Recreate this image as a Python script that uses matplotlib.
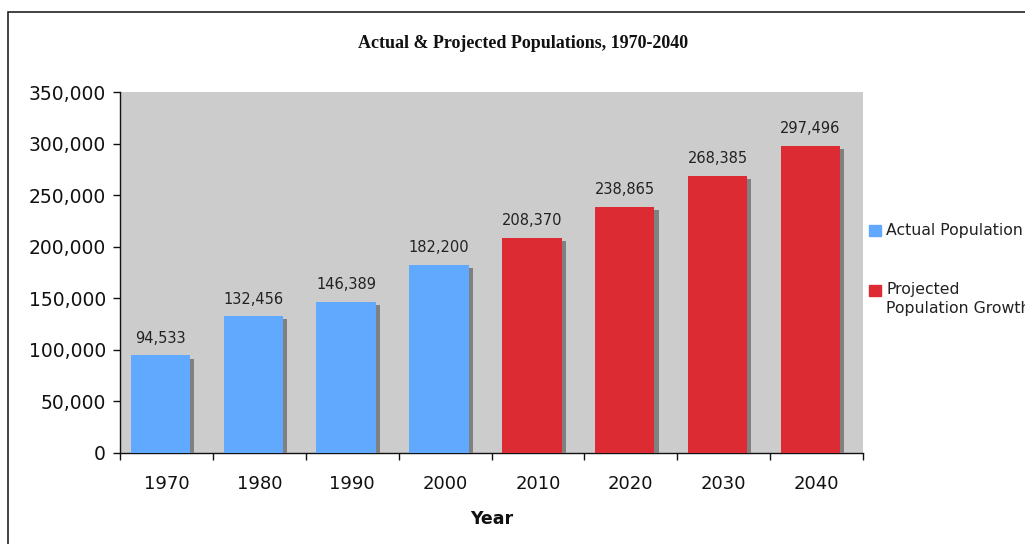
import matplotlib
matplotlib.use("Agg")
import matplotlib.pyplot as plt
import matplotlib.ticker as ticker
import matplotlib.patheffects as pe
from matplotlib.patches import Rectangle

# ── Data ──────────────────────────────────────────────────────────────────────
years = ["1970", "1980", "1990", "2000", "2010", "2020", "2030", "2040"]
population = [94533, 132456, 146389, 182200, 208370, 238865, 268385, 297496]
is_projected = [False, False, False, False, True, True, True, True]
series_labels = ["Actual Population", "Projected\nPopulation Growth"]

BLUE = "#61a9ff"
RED = "#dd2b34"
BG = "#cccccc"
SHADOW = "#808080"

W, H = 1025, 544
fig = plt.figure(figsize=(W / 100, H / 100), dpi=100)


def px(x0, y0, x1, y1):
    """Pixel box (top-left origin) -> figure fraction rect."""
    return [x0 / W, 1 - y1 / H, (x1 - x0) / W, (y1 - y0) / H]


# outer frame, cut off at right/bottom like the source
fig.add_artist(Rectangle((8 / W, -0.2), 1.2, (H - 12) / H + 0.2,
                         transform=fig.transFigure, fill=False,
                         edgecolor="#222222", linewidth=1.2))

ax = fig.add_axes(px(120, 92, 863, 453))
ax.set_facecolor(BG)

xs = list(range(len(years)))
colors = [RED if p else BLUE for p in is_projected]
shadow = [pe.SimplePatchShadow(offset=(2.9, -2.2), shadow_rgbFace=SHADOW, alpha=1.0),
          pe.Normal()]
bars = ax.bar([x - 0.065 for x in xs], population, width=0.64, color=colors,
              zorder=3)
for b in bars:
    b.set_path_effects(shadow)

for b, v in zip(bars, population):
    ax.annotate(f"{v:,}", (b.get_x() + b.get_width() / 2, v),
                xytext=(0, 7), textcoords="offset points",
                ha="center", va="bottom", fontsize=10.5, color="#222222")

ax.set_xlim(-0.5, len(years) - 0.5)
ax.set_ylim(0, 350000)
ax.yaxis.set_major_locator(ticker.MultipleLocator(50000))
ax.yaxis.set_major_formatter(ticker.FuncFormatter(lambda v, _: f"{int(v):,}"))
ax.set_xticks(xs)
ax.set_xticklabels(years)
ax.set_xticks([x - 0.5 for x in range(len(years) + 1)], minor=True)
ax.tick_params(axis="x", which="major", length=0, pad=16, labelsize=13,
               labelcolor="#111111")
ax.tick_params(axis="x", which="minor", length=5, width=1, color="#111111")
ax.tick_params(axis="y", length=5, width=1, pad=5, labelsize=13.5,
               labelcolor="#111111", color="#111111")
for side in ("top", "right"):
    ax.spines[side].set_visible(False)
for side in ("left", "bottom"):
    ax.spines[side].set_color("#111111")
    ax.spines[side].set_linewidth(1.0)

ax.set_xlabel("Year", fontsize=12.5, fontweight="bold", labelpad=12,
              color="#111111")

fig.text(523 / W, 1 - 44 / H, "Actual & Projected Populations, 1970-2040",
         family="Liberation Serif", fontweight="bold", fontsize=13,
         ha="center", va="center", color="#111111")

# legend, drawn by hand to match the source placement
for (y_sq, y_txt), col, lab in zip([(225, 231), (285, 282)], [BLUE, RED],
                                   series_labels):
    fig.add_artist(Rectangle((869 / W, 1 - (y_sq + 11) / H), 12 / W, 11 / H,
                             transform=fig.transFigure, color=col))
    fig.text(886 / W, 1 - y_txt / H, lab, fontsize=11.3, ha="left",
             va="top" if "\n" in lab else "center", color="#222222",
             linespacing=1.35)

fig.savefig("out.png", dpi=100)
